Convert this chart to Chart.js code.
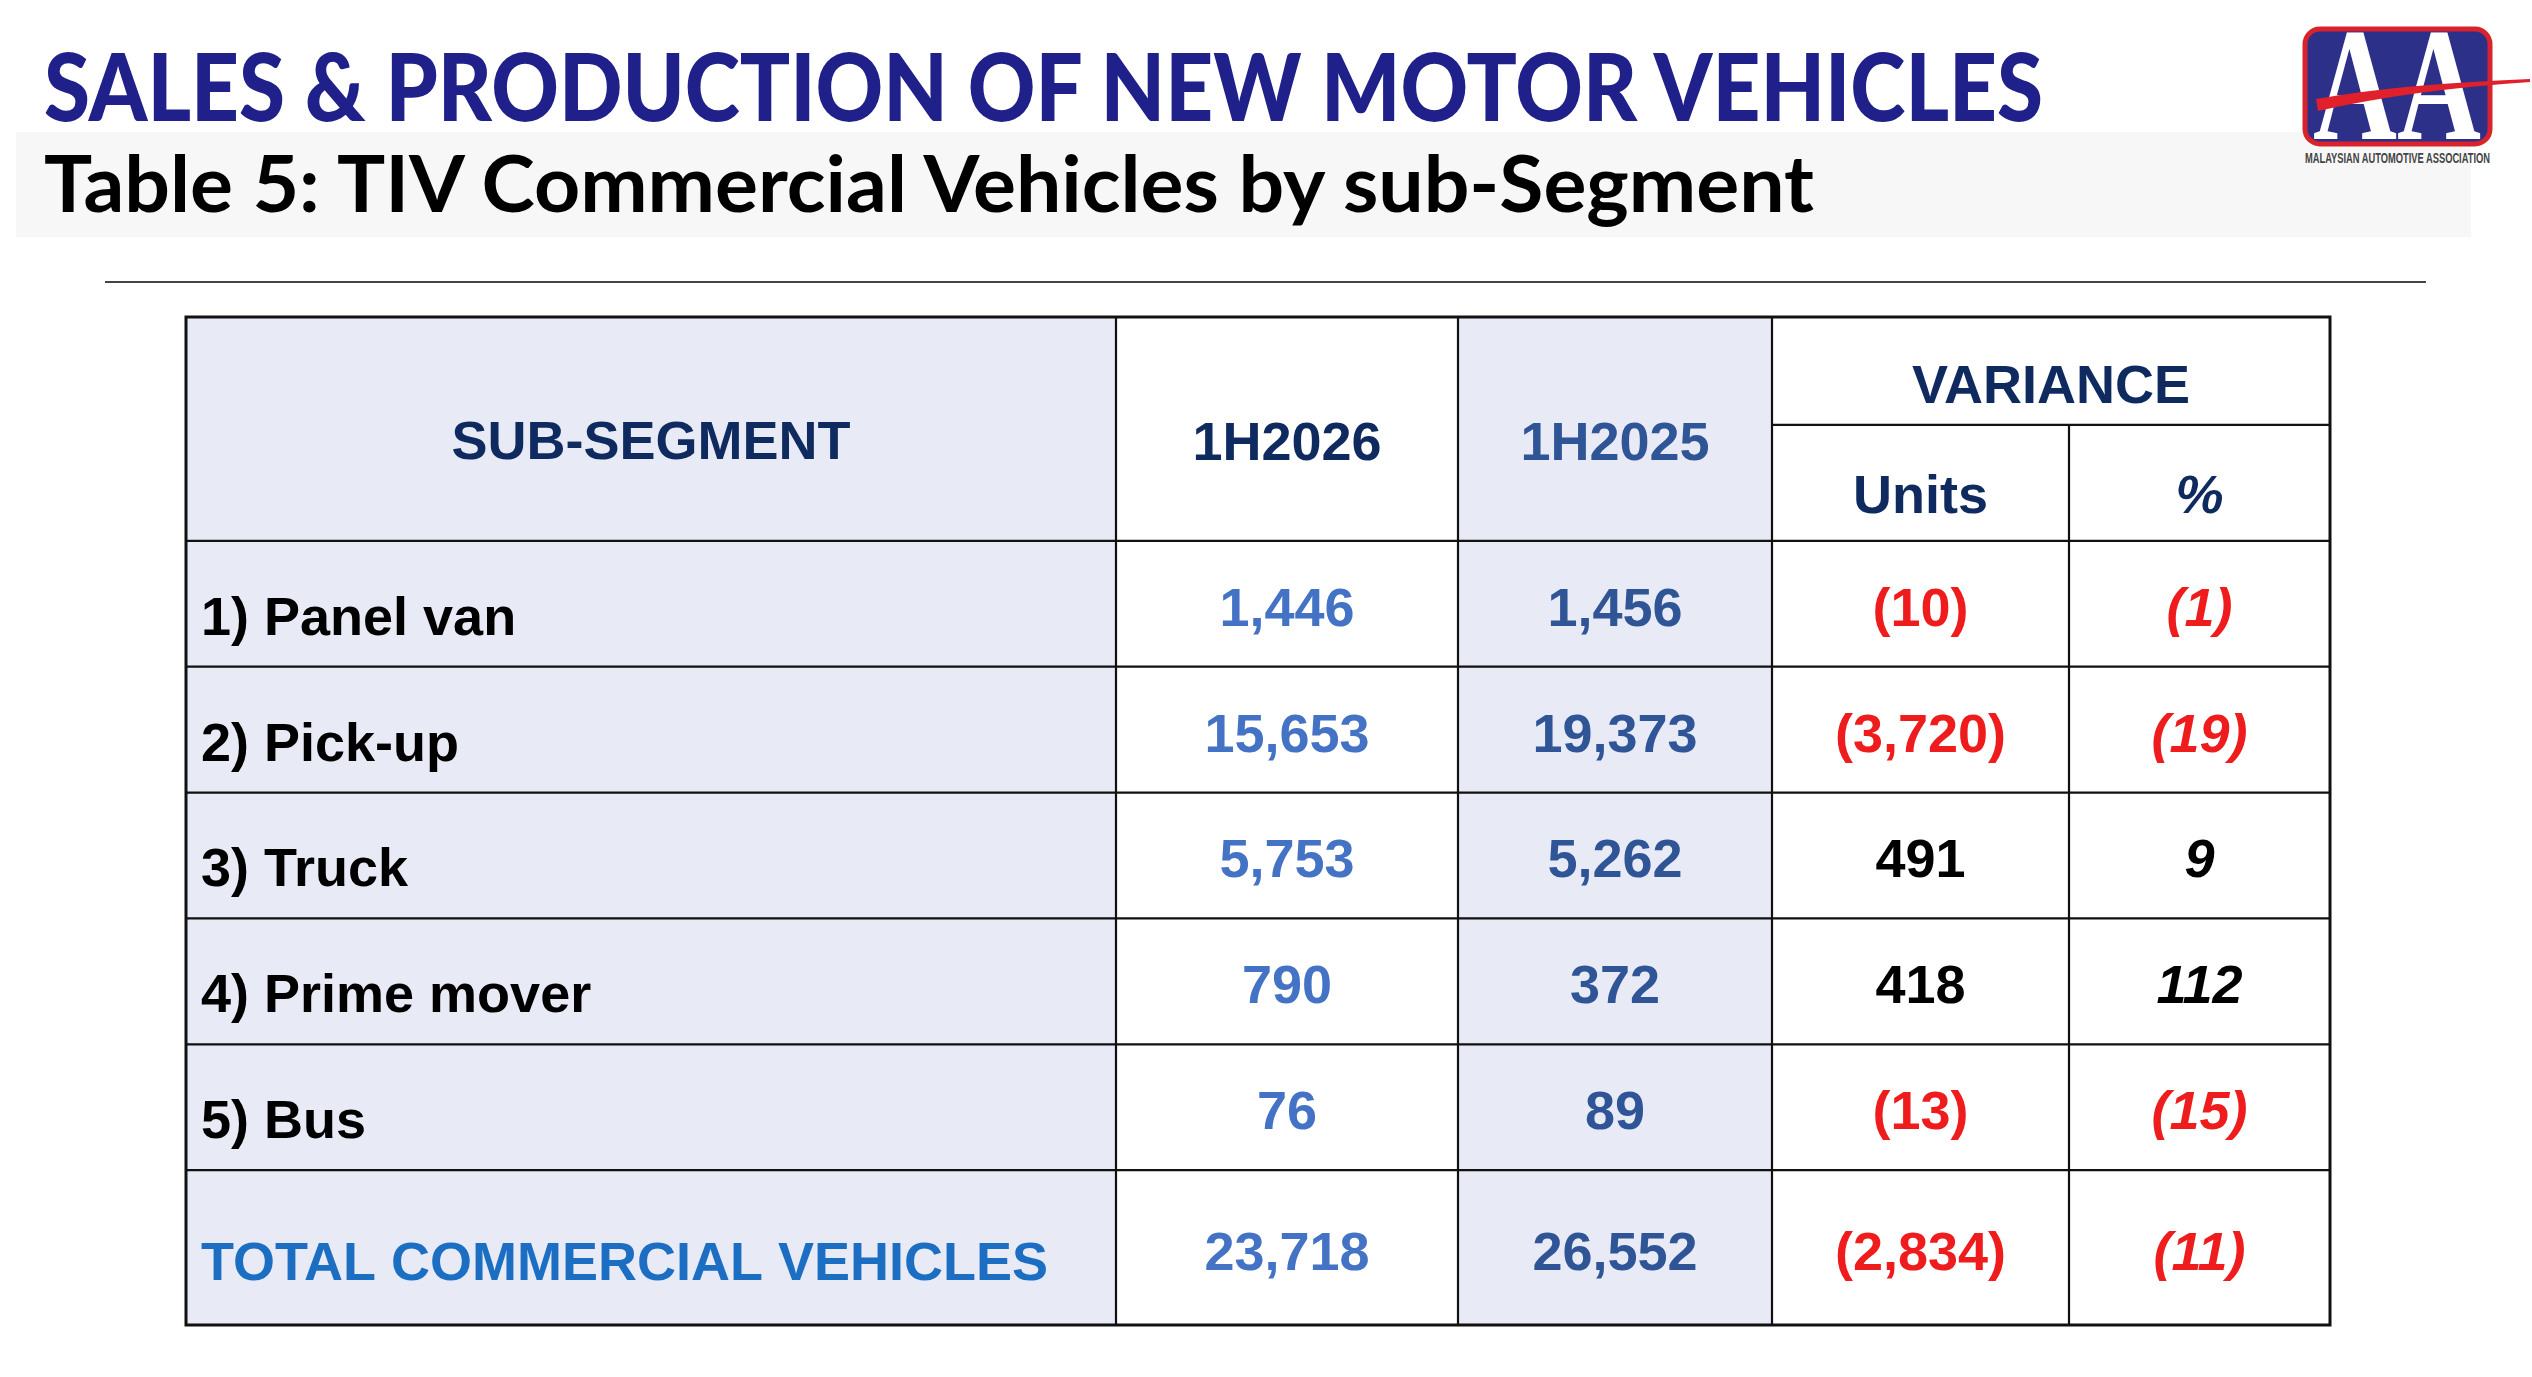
<!DOCTYPE html>
<html><head><meta charset="utf-8">
<script src="https://cdn.jsdelivr.net/npm/chart.js@4.4.1/dist/chart.umd.min.js"></script>
<style>
html,body{margin:0;padding:0;background:#fff;width:2532px;height:1377px;overflow:hidden;}
#wrap{position:relative;width:2532px;height:1377px;}
#deco{position:absolute;left:0;top:0;}
#table{position:absolute;left:0;top:0;}
</style></head>
<body><div id="wrap">
<svg id="deco" width="2532" height="1377" xmlns="http://www.w3.org/2000/svg">
  <rect x="16" y="132" width="2455" height="105" fill="#f7f7f7"/>
  <text x="44" y="121" font-family="Lato, 'DejaVu Sans'" font-weight="900" font-size="94" fill="#1f2089" textLength="1999" lengthAdjust="spacingAndGlyphs">SALES &amp; PRODUCTION OF NEW MOTOR VEHICLES</text>
  <text x="44" y="212" font-family="Lato, 'DejaVu Sans'" font-weight="bold" font-size="78" fill="#000" textLength="1770" lengthAdjust="spacingAndGlyphs">Table 5: TIV Commercial Vehicles by sub-Segment</text>
  <line x1="105" y1="282" x2="2426" y2="282" stroke="#444" stroke-width="2"/>
  <g id="logo">
    <rect x="2305" y="29" width="185" height="115" rx="15" ry="15" fill="#2d3088" stroke="#d8232d" stroke-width="5"/>
    <text x="2313" y="139" font-family="'Liberation Serif','DejaVu Serif',serif" font-weight="bold" font-size="160" fill="#fff" textLength="168" lengthAdjust="spacingAndGlyphs">AA</text>
    <path d="M2316 99 Q2400 84 2530 79 L2530 82 Q2410 90 2318 111 Z" fill="#e0202a"/>
    <text x="2305" y="163" font-family="'Liberation Sans Narrow','Liberation Sans',Arial" font-weight="bold" font-size="14" fill="#444" textLength="185" lengthAdjust="spacingAndGlyphs">MALAYSIAN AUTOMOTIVE ASSOCIATION</text>
  </g>
</svg>
<canvas id="table" width="2532" height="1377"></canvas>
</div>
<script>
// ---- data ----
const headerMain = ['SUB-SEGMENT', '1H2026', '1H2025', 'VARIANCE'];
const headerSub = ['Units', '%'];
const categories = ['1) Panel van', '2) Pick-up', '3) Truck', '4) Prime mover', '5) Bus', 'TOTAL COMMERCIAL VEHICLES'];
const sales1H2026 = [1446, 15653, 5753, 790, 76, 23718];
const sales1H2025 = [1456, 19373, 5262, 372, 89, 26552];
const varianceUnits = [-10, -3720, 491, 418, -13, -2834];
const variancePct = [-1, -19, 9, 112, -15, -11];

// ---- layout (table units) ----
const colEdges = [0, 930, 1272, 1586, 1883, 2144];
const headerSplit = 108, headerH = 224, rowH = 126, totalH = 155;
const tableH = headerH + rowH * (categories.length - 1) + totalH;

const C = {
  lav: '#e8eaf5', navy: '#0f2a5f', navy2: '#2f5597', blue1: '#4472c4', blue2: '#2f5597',
  red: '#ee1c1c', black: '#000', total: '#1b6ec2', line: '#111'
};
const FONT = '"Liberation Sans", Arial, Helvetica, sans-serif';

function fmt(v) {
  const s = Math.abs(v).toLocaleString('en-US');
  return v < 0 ? '(' + s + ')' : s;
}

const tablePlugin = {
  id: 'tablePlugin',
  afterDraw(chart) {
    const ctx = chart.ctx, xs = chart.scales.x, ys = chart.scales.y;
    const X = v => xs.getPixelForValue(v), Y = v => ys.getPixelForValue(v);
    const n = categories.length;
    const rowTop = i => headerH + rowH * i;
    const rowBot = i => i === n - 1 ? tableH : headerH + rowH * (i + 1);
    ctx.save();
    ctx.fillStyle = C.lav;
    [0, 2].forEach(c => {
      ctx.fillRect(X(colEdges[c]), Y(0), X(colEdges[c + 1]) - X(colEdges[c]), Y(tableH) - Y(0));
    });
    function txt(s, cx, by, color, size, align, italic) {
      ctx.font = (italic ? 'italic ' : '') + 'bold ' + size + 'px ' + FONT;
      ctx.fillStyle = color;
      ctx.textAlign = align || 'center';
      ctx.textBaseline = 'alphabetic';
      ctx.fillText(s, cx, by);
    }
    const mid = c => (X(colEdges[c]) + X(colEdges[c + 1])) / 2;
    const FS = 54;
    txt(headerMain[0], mid(0), Y(142), C.navy, FS);
    txt(headerMain[1], mid(1), Y(143), C.navy, FS);
    txt(headerMain[2], mid(2), Y(143), C.navy2, FS);
    txt(headerMain[3], (X(colEdges[3]) + X(colEdges[5])) / 2, Y(86), C.navy, FS);
    txt(headerSub[0], mid(3), Y(196), C.navy, FS);
    txt(headerSub[1], mid(4), Y(196), C.navy, FS, 'center', true);
    for (let i = 0; i < n; i++) {
      const isTotal = i === n - 1;
      const lb = isTotal ? Y(rowBot(i)) - 45 : Y(rowBot(i)) - 32;
      const nb = isTotal ? Y(rowBot(i)) - 55 : Y(rowBot(i)) - 41;
      txt(categories[i], X(colEdges[0]) + 15, lb, isTotal ? C.total : C.black, FS, 'left');
      txt(fmt(sales1H2026[i]), mid(1), nb, C.blue1, FS);
      txt(fmt(sales1H2025[i]), mid(2), nb, C.blue2, FS);
      txt(fmt(varianceUnits[i]), mid(3), nb, varianceUnits[i] < 0 ? C.red : C.black, FS);
      txt(fmt(variancePct[i]), mid(4), nb, variancePct[i] < 0 ? C.red : C.black, FS, 'center', true);
    }
    ctx.strokeStyle = C.line;
    ctx.lineWidth = 2.2;
    ctx.beginPath();
    for (let c = 1; c < colEdges.length - 1; c++) {
      const top = c === 4 ? Y(headerSplit) : Y(0);
      ctx.moveTo(X(colEdges[c]), top); ctx.lineTo(X(colEdges[c]), Y(tableH));
    }
    ctx.moveTo(X(colEdges[3]), Y(headerSplit)); ctx.lineTo(X(colEdges[5]), Y(headerSplit));
    for (let i = 0; i < n; i++) { ctx.moveTo(X(0), Y(rowTop(i))); ctx.lineTo(X(colEdges[5]), Y(rowTop(i))); }
    ctx.stroke();
    ctx.lineWidth = 3;
    ctx.strokeRect(X(0), Y(0), X(colEdges[5]) - X(0), Y(tableH) - Y(0));
    ctx.restore();
  }
};

new Chart(document.getElementById('table'), {
  type: 'scatter',
  data: { datasets: [] },
  options: {
    responsive: false, animation: false, devicePixelRatio: 1,
    layout: { padding: { left: 186, top: 317, right: 2532 - 2330, bottom: 1377 - 1325 } },
    plugins: { legend: { display: false }, tooltip: { enabled: false } },
    scales: {
      x: { type: 'linear', min: 0, max: colEdges[colEdges.length - 1], display: false },
      y: { type: 'linear', min: 0, max: tableH, reverse: true, display: false }
    }
  },
  plugins: [tablePlugin]
});
</script>
</body></html>
